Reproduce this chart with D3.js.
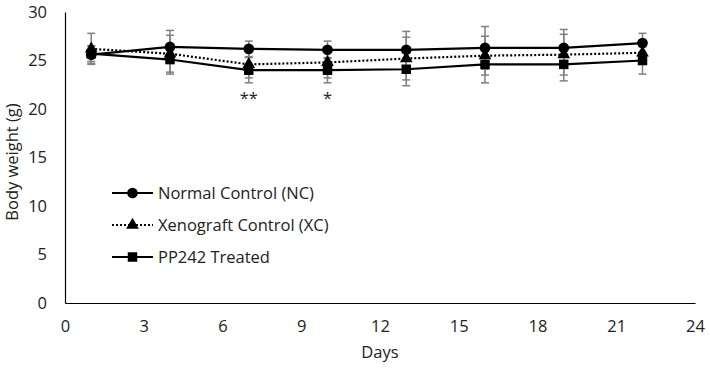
<!DOCTYPE html>
<html>
<head>
<meta charset="utf-8">
<script src="https://cdn.jsdelivr.net/npm/d3@7"></script>
<style>
  body { margin: 0; background: #fff; }
  text { font-family: "Open Sans", sans-serif; }
</style>
</head>
<body>
<svg id="chart" width="710" height="371"></svg>
<script>
var days = [1, 4, 7, 10, 13, 16, 19, 22];
var ncMean = [25.6, 26.4, 26.2, 26.1, 26.1, 26.3, 26.3, 26.8];
var ncErr = [0.9, 1.7, 0.8, 0.9, 1.9, 2.2, 1.9, 1.0];
var xcMean = [26.2, 25.7, 24.6, 24.8, 25.2, 25.5, 25.6, 25.8];
var xcErr = [1.6, 1.9, 1.4, 1.6, 2.2, 2.0, 2.1, 1.2];
var ppMean = [25.7, 25.1, 24.0, 24.0, 24.1, 24.6, 24.6, 25.0];
var ppErr = [0.8, 1.5, 1.3, 1.3, 1.7, 1.9, 1.7, 1.4];
var xTicks = [0, 3, 6, 9, 12, 15, 18, 21, 24];
var yTicks = [0, 5, 10, 15, 20, 25, 30];
var stars = [{ day: 7, label: "**" }, { day: 10, label: "*" }];

var svg = d3.select("#chart");
var margin = { top: 12, right: 15, bottom: 68, left: 65 };
var width = 710, height = 371;
var fs = "16.5px";

var x = d3.scaleLinear().domain([0, 24]).range([margin.left, width - margin.right]);
var y = d3.scaleLinear().domain([0, 30]).range([height - margin.bottom, margin.top]);

var series = [
  { name: "Normal Control (NC)", mean: ncMean, err: ncErr, shape: d3.symbolCircle, dash: null },
  { name: "Xenograft Control (XC)", mean: xcMean, err: xcErr, shape: d3.symbolTriangle, dash: "2,2" },
  { name: "PP242 Treated", mean: ppMean, err: ppErr, shape: d3.symbolSquare, dash: null }
];

// axes
var xAxis = svg.append("g")
  .attr("transform", `translate(0, ${y(0)})`)
  .call(d3.axisBottom(x).tickValues(xTicks).tickSize(0).tickPadding(17));
var yAxis = svg.append("g")
  .attr("transform", `translate(${x(0)}, 0)`)
  .call(d3.axisLeft(y).tickValues(yTicks).tickSize(0).tickPadding(18));
[xAxis, yAxis].forEach(g => {
  g.select(".domain").attr("stroke", "#000").attr("stroke-width", 1.2);
  g.selectAll("text").attr("font-size", fs).attr("fill", "#222")
    .style("font-family", "'Open Sans', sans-serif");
});

svg.append("text")
  .attr("x", (x(0) + x(24)) / 2)
  .attr("y", 358)
  .attr("text-anchor", "middle")
  .attr("font-size", fs)
  .attr("fill", "#222")
  .text("Days");
svg.append("text")
  .attr("transform", "rotate(-90)")
  .attr("x", -162)
  .attr("y", 18)
  .attr("text-anchor", "middle")
  .attr("font-size", fs)
  .attr("fill", "#222")
  .text("Body weight (g)");

// error bars
series.forEach(s => {
  var g = svg.append("g").attr("stroke", "#808080").attr("stroke-width", 1.5);
  days.forEach((d, i) => {
    var lo = y(s.mean[i] - s.err[i]), hi = y(s.mean[i] + s.err[i]), cx = x(d);
    g.append("line").attr("x1", cx).attr("x2", cx).attr("y1", lo).attr("y2", hi);
    g.append("line").attr("x1", cx - 4).attr("x2", cx + 4).attr("y1", lo).attr("y2", lo);
    g.append("line").attr("x1", cx - 4).attr("x2", cx + 4).attr("y1", hi).attr("y2", hi);
  });
});

// lines and markers
var line = d3.line().x((d, i) => x(days[i])).y(d => y(d));
var symSize = s => s.shape === d3.symbolTriangle ? 70 : 90;
series.forEach(s => {
  svg.append("path")
    .datum(s.mean)
    .attr("d", line)
    .attr("fill", "none")
    .attr("stroke", "#000")
    .attr("stroke-width", 2.2)
    .attr("stroke-dasharray", s.dash);
  svg.selectAll(null)
    .data(s.mean)
    .enter()
    .append("path")
    .attr("d", d3.symbol().type(s.shape).size(symSize(s)))
    .attr("transform", (d, i) => `translate(${x(days[i])}, ${y(d)})`)
    .attr("fill", "#000");
});

// significance marks
svg.selectAll(".star")
  .data(stars)
  .enter()
  .append("text")
  .attr("x", d => x(d.day))
  .attr("y", 104)
  .attr("text-anchor", "middle")
  .attr("font-size", fs)
  .attr("fill", "#222")
  .text(d => d.label);

// legend
var legend = svg.append("g").attr("transform", "translate(112, 193)");
series.forEach((s, i) => {
  var row = legend.append("g").attr("transform", `translate(0, ${i * 32})`);
  row.append("line")
    .attr("x1", 0).attr("x2", 41)
    .attr("stroke", "#000").attr("stroke-width", 2.2)
    .attr("stroke-dasharray", s.dash);
  row.append("path")
    .attr("d", d3.symbol().type(s.shape).size(symSize(s)))
    .attr("transform", "translate(20.5, 0)")
    .attr("fill", "#000");
  row.append("text")
    .attr("x", 46)
    .attr("dy", "0.35em")
    .attr("font-size", fs)
    .attr("fill", "#222")
    .text(s.name);
});
</script>
</body>
</html>
